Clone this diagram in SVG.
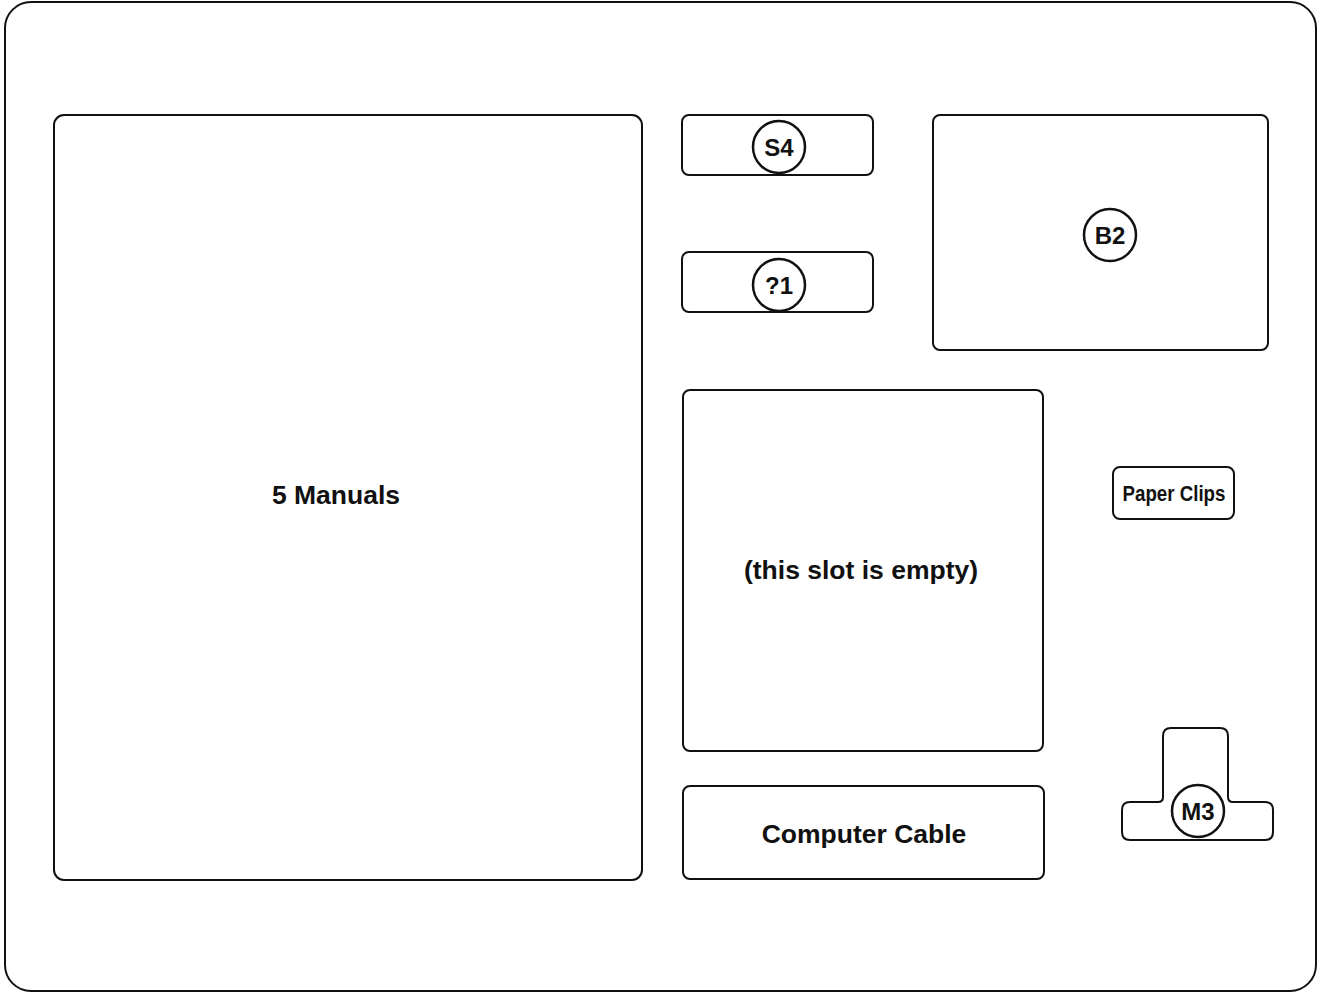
<svg xmlns="http://www.w3.org/2000/svg" width="1323" height="993" viewBox="0 0 1323 993">
<style>
.b{fill:none;stroke:#111;stroke-width:2}
.c{fill:#fff;stroke:#111;stroke-width:2.5}
.t{font-family:"Liberation Sans",Arial,sans-serif;font-weight:bold;fill:#111;text-anchor:middle;dominant-baseline:central}
.l{font-size:26.5px}
.s{font-size:24px}
</style>
<rect width="1323" height="993" fill="#fff"/>
<rect id="frame" class="b" x="5" y="2" width="1311" height="989" rx="26" stroke-width="2.5"/>
<g id="manuals"><rect class="b" x="54" y="115" width="588" height="765" rx="10"/><text class="t l" x="336" y="495">5 Manuals</text></g>
<g id="s4"><rect class="b" x="682" y="115" width="191" height="60" rx="7"/><circle class="c" cx="779" cy="147" r="26"/><text class="t s" x="779" y="147">S4</text></g>
<g id="q1"><rect class="b" x="682" y="252" width="191" height="60" rx="7"/><circle class="c" cx="779" cy="285" r="26"/><text class="t s" x="779" y="285">?1</text></g>
<g id="b2"><rect class="b" x="933" y="115" width="335" height="235" rx="7"/><circle class="c" cx="1110" cy="235" r="26"/><text class="t s" x="1110" y="235">B2</text></g>
<g id="empty"><rect class="b" x="683" y="390" width="360" height="361" rx="7"/><text class="t l" x="861" y="570">(this slot is empty)</text></g>
<g id="cable"><rect class="b" x="683" y="786" width="361" height="93" rx="7"/><text class="t l" x="864" y="834">Computer Cable</text></g>
<g id="clips"><rect class="b" x="1113" y="467" width="121" height="52" rx="7"/><text class="t" x="1174" y="493" font-size="22" transform="translate(1174 493) scale(0.85 1) translate(-1174 -493)">Paper Clips</text></g>
<g id="m3"><path class="b" d="M1171 728 H1220 Q1228 728 1228 736 V797 Q1228 802 1233 802 H1265 Q1273 802 1273 810 V832 Q1273 840 1265 840 H1130 Q1122 840 1122 832 V810 Q1122 802 1130 802 H1158 Q1163 802 1163 797 V736 Q1163 728 1171 728 Z"/><circle class="c" cx="1198" cy="811" r="26"/><text class="t s" x="1198" y="811">M3</text></g>
<g id="connectors"/>
</svg>
